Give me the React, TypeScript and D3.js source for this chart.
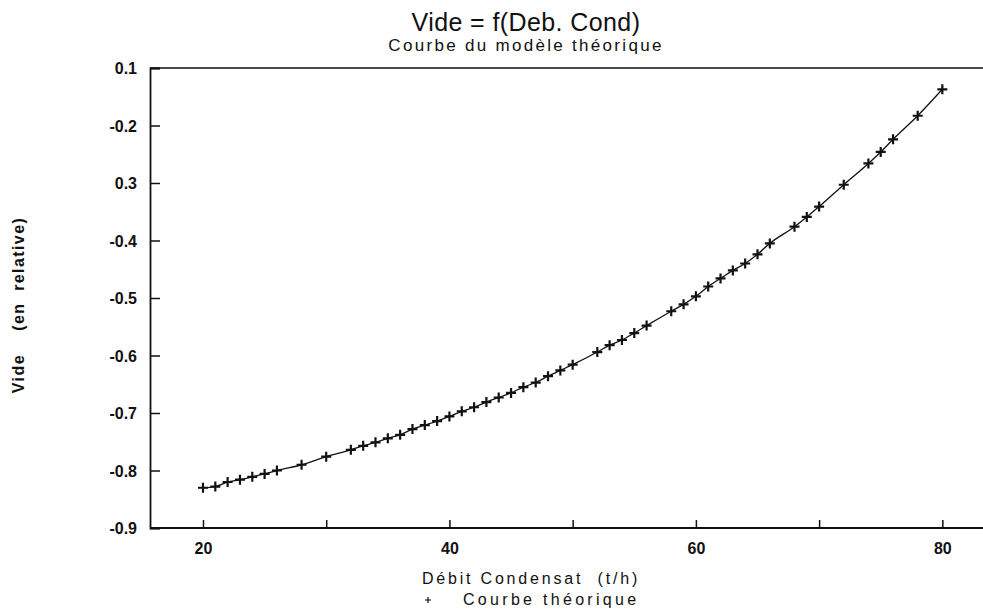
import * as d3 from "d3";
import { useEffect, useRef } from "react";

// debit condensat (t/h)
const debit = [
  20, 21, 22, 23, 24, 25, 26, 28, 30, 32, 33, 34, 35, 36, 37, 38, 39, 40, 41, 42,
  43, 44, 45, 46, 47, 48, 49, 50, 52, 53, 54, 55, 56, 58, 59, 60, 61, 62, 63, 64,
  65, 66, 68, 69, 70, 72, 74, 75, 76, 78, 80,
];
// vide (en relative)
const vide = [
  -0.83, -0.828, -0.82, -0.816, -0.811, -0.806, -0.8, -0.79, -0.776, -0.764,
  -0.757, -0.751, -0.744, -0.738, -0.728, -0.721, -0.714, -0.706, -0.697, -0.69,
  -0.681, -0.673, -0.665, -0.655, -0.647, -0.636, -0.626, -0.616, -0.594, -0.582,
  -0.573, -0.561, -0.548, -0.523, -0.511, -0.497, -0.48, -0.466, -0.452, -0.44,
  -0.424, -0.405, -0.376, -0.359, -0.341, -0.303, -0.266, -0.246, -0.224, -0.183,
  -0.137,
];

const yTickValues = [-0.1, -0.2, -0.3, -0.4, -0.5, -0.6, -0.7, -0.8, -0.9];
const yTickLabels = ["0.1", "-0.2", "0.3", "-0.4", "-0.5", "-0.6", "-0.7", "-0.8", "-0.9"];
const xTickValues = [20, 30, 40, 50, 60, 70, 80];
const xTickLabels = ["20", "", "40", "", "60", "", "80"];

const width = 983;
const height = 612;
const margin = { top: 68, right: 0, bottom: 84, left: 150 };
const font = "'Liberation Sans', Arial, sans-serif";

export default function App() {
  const ref = useRef<SVGSVGElement>(null);

  useEffect(() => {
    const svg = d3.select(ref.current);
    svg.selectAll("*").remove();

    const xScale = d3
      .scaleLinear()
      .domain([15.7, 83.3])
      .range([margin.left, width - margin.right]);
    const yScale = d3
      .scaleLinear()
      .domain([-0.9, -0.1])
      .range([height - margin.bottom, margin.top]);

    const data = debit.map((d, i) => ({ x: d, y: vide[i] }));

    // frame top
    svg
      .append("line")
      .attr("x1", margin.left)
      .attr("x2", width)
      .attr("y1", margin.top)
      .attr("y2", margin.top)
      .attr("stroke", "#111")
      .attr("stroke-width", 1.5);

    const yAxis = d3
      .axisRight(yScale)
      .tickValues(yTickValues)
      .tickSize(10)
      .tickFormat((d, i) => yTickLabels[i]);
    const gy = svg
      .append("g")
      .attr("transform", `translate(${margin.left},0)`)
      .call(yAxis);
    gy.select(".domain").attr("stroke", "#111").attr("stroke-width", 1.8);
    gy.selectAll(".tick line").attr("stroke", "#111").attr("stroke-width", 1.5);
    gy.selectAll(".tick text")
      .attr("x", -13)
      .attr("text-anchor", "end")
      .attr("dy", "0.35em")
      .style("font-family", font)
      .style("font-size", "16px")
      .style("font-weight", "bold")
      .attr("fill", "#111");

    const xAxis = d3
      .axisTop(xScale)
      .tickValues(xTickValues)
      .tickSize(8)
      .tickFormat((d, i) => xTickLabels[i]);
    const gx = svg
      .append("g")
      .attr("transform", `translate(0,${height - margin.bottom})`)
      .call(xAxis);
    gx.select(".domain")
      .attr("d", `M${margin.left},0H${width}`)
      .attr("stroke", "#111")
      .attr("stroke-width", 1.8);
    gx.selectAll(".tick line").attr("stroke", "#111").attr("stroke-width", 1.5);
    gx.selectAll(".tick text")
      .attr("y", 26)
      .attr("dy", "0")
      .style("font-family", font)
      .style("font-size", "16px")
      .style("font-weight", "bold")
      .attr("fill", "#111");

    // curve
    const line = d3
      .line<{ x: number; y: number }>()
      .x((d) => xScale(d.x))
      .y((d) => yScale(d.y))
      .curve(d3.curveMonotoneX);

    svg
      .append("path")
      .datum(data)
      .attr("d", line)
      .attr("fill", "none")
      .attr("stroke", "#111")
      .attr("stroke-width", 1.3);

    svg
      .selectAll(".mark")
      .data(data)
      .enter()
      .append("path")
      .attr("class", "mark")
      .attr("d", (d) => {
        const cx = xScale(d.x);
        const cy = yScale(d.y);
        return `M${cx - 5},${cy}H${cx + 5}M${cx},${cy - 5}V${cy + 5}`;
      })
      .attr("stroke", "#111")
      .attr("stroke-width", 2.2);

    // titles
    svg
      .append("text")
      .attr("x", 526)
      .attr("y", 31)
      .attr("text-anchor", "middle")
      .style("font-family", font)
      .style("font-size", "25px")
      .style("letter-spacing", "0.4px")
      .attr("fill", "#111")
      .text("Vide = f(Deb. Cond)");
    svg
      .append("text")
      .attr("x", 526)
      .attr("y", 51)
      .attr("text-anchor", "middle")
      .style("font-family", font)
      .style("font-size", "17px")
      .style("letter-spacing", "2.3px")
      .attr("fill", "#111")
      .text("Courbe du modèle théorique");

    svg
      .append("text")
      .attr("transform", "translate(24,305) rotate(-90)")
      .attr("text-anchor", "middle")
      .style("font-family", font)
      .style("font-size", "16px")
      .style("font-weight", "bold")
      .style("letter-spacing", "1.4px")
      .style("white-space", "pre")
      .attr("fill", "#111")
      .text("Vide    (en  relative)");

    svg
      .append("text")
      .attr("x", 531)
      .attr("y", 584)
      .attr("text-anchor", "middle")
      .style("font-family", font)
      .style("font-size", "16px")
      .style("letter-spacing", "2.8px")
      .style("white-space", "pre")
      .attr("fill", "#111")
      .text("Débit Condensat  (t/h)");

    // legend
    svg
      .append("path")
      .attr("d", "M425,600H431M428,597V603")
      .attr("stroke", "#111")
      .attr("stroke-width", 1.2);
    svg
      .append("text")
      .attr("x", 463)
      .attr("y", 605)
      .style("font-family", font)
      .style("font-size", "16px")
      .style("letter-spacing", "3.3px")
      .attr("fill", "#111")
      .text("Courbe théorique");
  }, []);

  return (
    <svg
      ref={ref}
      width={width}
      height={height}
      style={{ position: "absolute", left: 0, top: 0, background: "#fff" }}
    />
  );
}
